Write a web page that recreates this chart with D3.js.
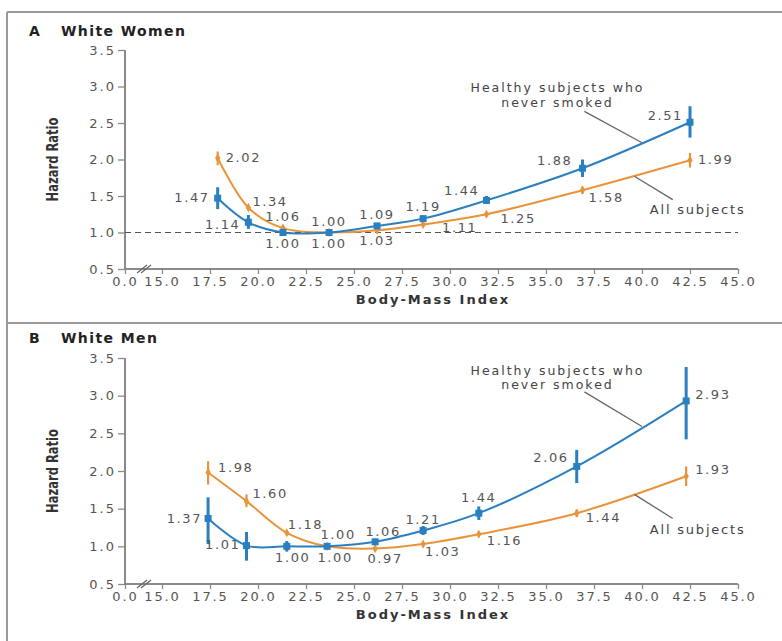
<!DOCTYPE html>
<html>
<head>
<meta charset="utf-8">
<script src="https://cdn.jsdelivr.net/npm/d3@7"></script>
<style>
  body { margin: 0; background: #fff; }
  svg { display: block; }
  text { font-family: "DejaVu Sans", Verdana, sans-serif; }
</style>
</head>
<body>
<svg id="chart" width="782" height="641"></svg>
<script>
// Data
var xTicks = [0, 15, 17.5, 20, 22.5, 25, 27.5, 30, 32.5, 35, 37.5, 40, 42.5, 45]
var yTicks = [0.5, 1.0, 1.5, 2.0, 2.5, 3.0, 3.5]

// A: white women
var womenBmi = [17.9, 19.5, 21.3, 23.7, 26.2, 28.6, 31.9, 36.9, 42.5]
var womenHealthy = [1.47, 1.14, 1.00, 1.00, 1.09, 1.19, 1.44, 1.88, 2.51]
var womenHealthyLo = [1.32, 1.05, 0.97, 1.00, 1.06, 1.15, 1.39, 1.76, 2.30]
var womenHealthyHi = [1.62, 1.24, 1.03, 1.00, 1.12, 1.23, 1.50, 2.00, 2.73]
var womenAll = [2.02, 1.34, 1.06, 1.00, 1.03, 1.11, 1.25, 1.58, 1.99]
var womenAllLo = [1.92, 1.30, 1.04, 1.00, 1.02, 1.09, 1.23, 1.53, 1.89]
var womenAllHi = [2.11, 1.38, 1.08, 1.00, 1.04, 1.13, 1.27, 1.63, 2.09]

// B: white men
var menBmi = [17.4, 19.4, 21.5, 23.6, 26.1, 28.6, 31.5, 36.6, 42.3]
var menHealthy = [1.37, 1.01, 1.00, 1.00, 1.06, 1.21, 1.44, 2.06, 2.93]
var menHealthyLo = [1.03, 0.81, 0.93, 1.00, 1.02, 1.15, 1.35, 1.84, 2.42]
var menHealthyHi = [1.65, 1.19, 1.07, 1.00, 1.10, 1.27, 1.53, 2.28, 3.38]
var menAll = [1.98, 1.60, 1.18, 1.00, 0.97, 1.03, 1.16, 1.44, 1.93]
var menAllLo = [1.82, 1.52, 1.16, 1.00, 0.96, 1.01, 1.13, 1.39, 1.80]
var menAllHi = [2.13, 1.69, 1.20, 1.00, 0.98, 1.05, 1.19, 1.49, 2.06]

// label placement, [dx, dy, anchor] from each point
var womenHealthyLab = [[-8, 4, "end"], [-8, 7, "end"], [0, 15, "middle"], [0, 15, "middle"], [0, -7, "middle"],
  [0, -8, "middle"], [-7, -5, "end"], [-10, -3, "end"], [-7, -2, "end"]]
var womenAllLab = [[8, 4, "start"], [4, -2, "start"], [0, -7, "middle"], [0, -7, "middle"], [0, 15, "middle"],
  [19, 8, "start"], [14, 9, "start"], [6, 12, "start"], [8, 4, "start"]]
var menHealthyLab = [[-6, 5, "end"], [-6, 3, "end"], [6, 16, "middle"], [8, 16, "middle"], [8, -6, "middle"],
  [0, -7, "middle"], [0, -11, "middle"], [-8, -4, "end"], [9, -2, "start"]]
var menAllLab = [[10, -1, "start"], [6, -3, "start"], [1, -4, "start"], [11, -7, "middle"], [10, 14, "middle"],
  [2, 12, "start"], [8, 11, "start"], [9, 9, "start"], [9, -2, "start"]]

var blue = "#2a7fc1"
var orange = "#e9943a"
var axisGray = "#8a8a8a"

var svg = d3.select("#chart")

// frame
svg.append("line").attr("x1", 7).attr("x2", 7).attr("y1", 12).attr("y2", 641)
  .attr("stroke", "#9a9a9a").attr("stroke-width", 2)
svg.append("line").attr("x1", 7).attr("x2", 782).attr("y1", 12).attr("y2", 12)
  .attr("stroke", "#9a9a9a").attr("stroke-width", 2)
svg.append("line").attr("x1", 7).attr("x2", 782).attr("y1", 323).attr("y2", 323)
  .attr("stroke", "#9a9a9a").attr("stroke-width", 2)

var x = d3.scaleLinear().domain([0, 15, 45]).range([125, 162, 738])

drawPanel({
  letter: "A", title: "White Women", top: 50, bottom: 269, titleY: 36,
  bmi: womenBmi, healthy: womenHealthy, healthyLo: womenHealthyLo, healthyHi: womenHealthyHi,
  all: womenAll, allLo: womenAllLo, allHi: womenAllHi,
  healthyLab: womenHealthyLab, allLab: womenAllLab, dashed: true,
  healthyText: [35.6, 2.92], healthyLead: [[37.0, 2.66], [40.0, 2.23]],
  allText: [42.9, 1.26], allLead: [[39.6, 1.77], [41.6, 1.45]]
})

drawPanel({
  letter: "B", title: "White Men", top: 358, bottom: 584, titleY: 343,
  bmi: menBmi, healthy: menHealthy, healthyLo: menHealthyLo, healthyHi: menHealthyHi,
  all: menAll, allLo: menAllLo, allHi: menAllHi,
  healthyLab: menHealthyLab, allLab: menAllLab, dashed: false,
  healthyText: [35.6, 3.28], healthyLead: [[37.0, 3.05], [40.0, 2.59]],
  allText: [42.9, 1.16], allLead: [[39.6, 1.69], [41.6, 1.37]]
})

function drawPanel(p) {
  var y = d3.scaleLinear().domain([0.5, 3.5]).range([p.bottom, p.top])
  var g = svg.append("g")

  // title
  g.append("text").attr("x", 29).attr("y", p.titleY).text(p.letter)
    .attr("font-weight", "bold").attr("font-size", 14).attr("fill", "#222")
  g.append("text").attr("x", 61).attr("y", p.titleY).text(p.title)
    .attr("font-weight", "bold").attr("font-size", 14).attr("letter-spacing", 1.4).attr("fill", "#222")

  // y axis
  var yAxis = g.append("g").attr("transform", "translate(125,0)")
    .call(d3.axisLeft(y).tickValues(yTicks).tickFormat(d3.format(".1f")).tickSize(7).tickPadding(2))
  yAxis.select(".domain").attr("stroke", axisGray).attr("stroke-width", 2)
    .attr("d", "M0," + y(3.5) + "V" + y(0.5))
  yAxis.selectAll(".tick line").attr("stroke", axisGray).attr("stroke-width", 1.3)
  yAxis.selectAll(".tick text").attr("font-family", "DejaVu Sans").attr("font-size", 13)
    .attr("letter-spacing", 2).attr("fill", "#555")

  // x axis
  var xAxis = g.append("g").attr("transform", "translate(0," + p.bottom + ")")
    .call(d3.axisBottom(x).tickValues(xTicks).tickFormat(d3.format(".1f")).tickSize(5).tickPadding(3))
  xAxis.select(".domain").attr("stroke", axisGray).attr("stroke-width", 2)
    .attr("d", "M125,0H738")
  xAxis.selectAll(".tick line").attr("stroke", axisGray).attr("stroke-width", 1.3)
  xAxis.selectAll(".tick text").attr("font-family", "DejaVu Sans").attr("font-size", 13)
    .attr("letter-spacing", 1.9).attr("fill", "#555")

  // axis break
  ;[0, 4].forEach(function(o) {
    g.append("line").attr("x1", 137 + o).attr("x2", 147 + o)
      .attr("y1", p.bottom + 4).attr("y2", p.bottom - 4)
      .attr("stroke", "#666").attr("stroke-width", 1.2)
  })

  // axis titles
  g.append("text").attr("x", 433).attr("y", p.bottom + 35).attr("text-anchor", "middle")
    .text("Body-Mass Index").attr("font-weight", "bold").attr("font-size", 13)
    .attr("letter-spacing", 2).attr("fill", "#333")
  g.append("text")
    .attr("transform", "translate(58," + ((p.top + p.bottom) / 2) + ") rotate(-90) scale(0.72,1)")
    .attr("text-anchor", "middle").text("Hazard Ratio")
    .attr("font-family", "Liberation Sans, Arial, sans-serif")
    .attr("font-weight", "bold").attr("font-size", 16).attr("fill", "#333")

  if (p.dashed) {
    g.append("line").attr("x1", 125).attr("x2", 738).attr("y1", y(1)).attr("y2", y(1))
      .attr("stroke", "#555").attr("stroke-width", 1.2).attr("stroke-dasharray", "6,4")
  }

  var line = d3.line().curve(d3.curveCatmullRom.alpha(0.5))
    .x(function(d) { return x(d[0]) }).y(function(d) { return y(d[1]) })

  drawSeries(p.bmi, p.all, p.allLo, p.allHi, orange, false, p.allLab)
  drawSeries(p.bmi, p.healthy, p.healthyLo, p.healthyHi, blue, true, p.healthyLab)

  function drawSeries(xs, vals, lo, hi, color, square, lab) {
    var pts = xs.map(function(b, i) { return [b, vals[i]] })
    g.append("path").datum(pts).attr("d", line).attr("fill", "none")
      .attr("stroke", color).attr("stroke-width", 2)
    g.selectAll(null).data(xs).enter().append("line")
      .attr("x1", function(d) { return x(d) }).attr("x2", function(d) { return x(d) })
      .attr("y1", function(d, i) { return y(lo[i]) }).attr("y2", function(d, i) { return y(hi[i]) })
      .attr("stroke", color).attr("stroke-width", square ? 3 : 2.2)
    if (square) {
      g.selectAll(null).data(pts).enter().append("rect")
        .attr("x", function(d) { return x(d[0]) - 3.5 }).attr("y", function(d) { return y(d[1]) - 3.5 })
        .attr("width", 7).attr("height", 7).attr("fill", color)
    } else {
      g.selectAll(null).data(pts).enter().append("path")
        .attr("d", d3.symbol(d3.symbolDiamond, 24))
        .attr("transform", function(d) { return "translate(" + x(d[0]) + "," + y(d[1]) + ")" })
        .attr("fill", color)
    }
    g.selectAll(null).data(pts).enter().append("text")
      .attr("x", function(d, i) { return x(d[0]) + lab[i][0] })
      .attr("y", function(d, i) { return y(d[1]) + lab[i][1] })
      .attr("text-anchor", function(d, i) { return lab[i][2] })
      .attr("font-size", 13).attr("letter-spacing", 1.6).attr("fill", "#555")
      .text(function(d) { return d[1].toFixed(2) })
  }

  // series callouts
  var ht = g.append("text").attr("text-anchor", "middle").attr("font-size", 12.5)
    .attr("letter-spacing", 2).attr("fill", "#444")
  ht.append("tspan").attr("x", x(p.healthyText[0])).attr("y", y(p.healthyText[1])).text("Healthy subjects who")
  ht.append("tspan").attr("x", x(p.healthyText[0])).attr("dy", 14.5).text("never smoked")
  g.append("line").attr("x1", x(p.healthyLead[0][0])).attr("y1", y(p.healthyLead[0][1]))
    .attr("x2", x(p.healthyLead[1][0])).attr("y2", y(p.healthyLead[1][1]))
    .attr("stroke", "#666").attr("stroke-width", 1.3)
  g.append("text").attr("x", x(p.allText[0])).attr("y", y(p.allText[1]))
    .attr("text-anchor", "middle").attr("font-size", 13).attr("letter-spacing", 1.8)
    .attr("fill", "#444").text("All subjects")
  g.append("line").attr("x1", x(p.allLead[0][0])).attr("y1", y(p.allLead[0][1]))
    .attr("x2", x(p.allLead[1][0])).attr("y2", y(p.allLead[1][1]))
    .attr("stroke", "#666").attr("stroke-width", 1.3)
}
</script>
</body>
</html>
